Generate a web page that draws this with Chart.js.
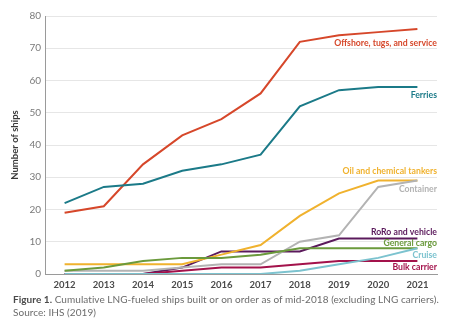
<!DOCTYPE html>
<html>
<head>
<meta charset="utf-8">
<script src="https://cdn.jsdelivr.net/npm/chart.js@4"></script>
<style>
  body { margin: 0; background: #fff; }
  #wrap { position: relative; width: 474px; height: 295px; }
  #caption { position: absolute; left: 13px; top: 293px; font-family: Lato, sans-serif; font-size: 10px; letter-spacing: 0.05px; line-height: 13px; color: #6b6b6b; }
  #caption b { color: #4a4a4a; }
</style>
</head>
<body>
<div id="wrap"><canvas id="chart" width="474" height="295"></canvas></div>
<div id="caption"><b>Figure 1.</b> Cumulative LNG-fueled ships built or on order as of mid-2018 (excluding LNG carriers).<br>Source: IHS (2019)</div>
<script>
var years = ['2012', '2013', '2014', '2015', '2016', '2017', '2018', '2019', '2020', '2021']
var offshore = [19, 21, 34, 43, 48, 56, 72, 74, 75, 76]
var ferries = [22, 27, 28, 32, 34, 37, 52, 57, 58, 58]
var oilTankers = [3, 3, 3, 3, 6, 9, 18, 25, 29, 29]
var container = [1, 1, 1, 2, 3, 3, 10, 12, 27, 29]
var roro = [0, 0, 0, 2, 7, 7, 7, 11, 11, 11]
var generalCargo = [1, 2, 4, 5, 5, 6, 8, 8, 8, 8]
var cruise = [0, 0, 0, 0, 0, 0, 1, 3, 5, 8]
var bulkCarrier = [0, 0, 0, 1, 2, 2, 3, 4, 4, 4]

function series(label, data, color, dy) {
    return {
        label: label,
        data: data,
        borderColor: color,
        backgroundColor: color,
        borderWidth: 2,
        pointRadius: 0,
        tension: 0,
        fill: false,
        labelDy: dy
    }
}

// text labels at the right end of each line
var endLabels = {
    id: 'endLabels',
    afterDatasetsDraw(chart) {
        var ctx = chart.ctx
        var x = chart.chartArea.right
        ctx.save()
        ctx.font = 'bold 8.7px Lato, sans-serif'
        ctx.textAlign = 'right'
        ctx.textBaseline = 'middle'
        chart.data.datasets.forEach(function (ds) {
            var last = ds.data[ds.data.length - 1]
            var y = chart.scales.y.getPixelForValue(last) + ds.labelDy
            ctx.fillStyle = ds.borderColor
            ctx.fillText(ds.label, x, y)
        })
        ctx.restore()
    }
}

var ctx = document.getElementById('chart').getContext('2d')
new Chart(ctx, {
    type: 'line',
    data: {
        labels: years,
        datasets: [
            series('Cruise', cruise, '#7cc3cf', 7),
            series('Bulk carrier', bulkCarrier, '#a3124b', 6),
            series('General cargo', generalCargo, '#6b9a3c', -5),
            series('Container', container, '#b3b3b3', 9),
            series('Oil and chemical tankers', oilTankers, '#f0b22e', -9),
            series('RoRo and vehicle', roro, '#5b1a5c', -6),
            series('Ferries', ferries, '#1b7a88', 8),
            series('Offshore, tugs, and service', offshore, '#d6472a', 14)
        ]
    },
    options: {
        responsive: false,
        animation: false,
        layout: { padding: { top: 16, right: 37, left: 0, bottom: 0 } },
        plugins: {
            legend: { display: false },
            tooltip: { enabled: false }
        },
        scales: {
            x: {
                offset: true,
                grid: { display: false, drawTicks: false },
                border: { color: '#9a9a9a', width: 1 },
                ticks: {
                    color: '#4a4a4a',
                    font: { family: 'Lato, sans-serif', size: 9.5, weight: 'bold' },
                    padding: 5,
                    maxRotation: 0
                },
                afterFit(scale) { scale.height = 21 }
            },
            y: {
                min: 0,
                max: 80,
                ticks: {
                    stepSize: 10,
                    color: '#7a7a7a',
                    font: { family: 'Lato, sans-serif', size: 10 },
                    padding: 4
                },
                grid: { color: '#e6e6e6', drawTicks: false },
                border: { color: '#9a9a9a', width: 1, dash: [] },
                title: {
                    display: true,
                    text: 'Number of ships',
                    color: '#3a3a3a',
                    font: { family: 'Lato, sans-serif', size: 9.5, weight: 'bold' },
                    padding: { top: 9, bottom: 0 }
                },
                afterFit(scale) { scale.width = 45 }
            }
        }
    },
    plugins: [endLabels]
})
</script>
</body>
</html>
